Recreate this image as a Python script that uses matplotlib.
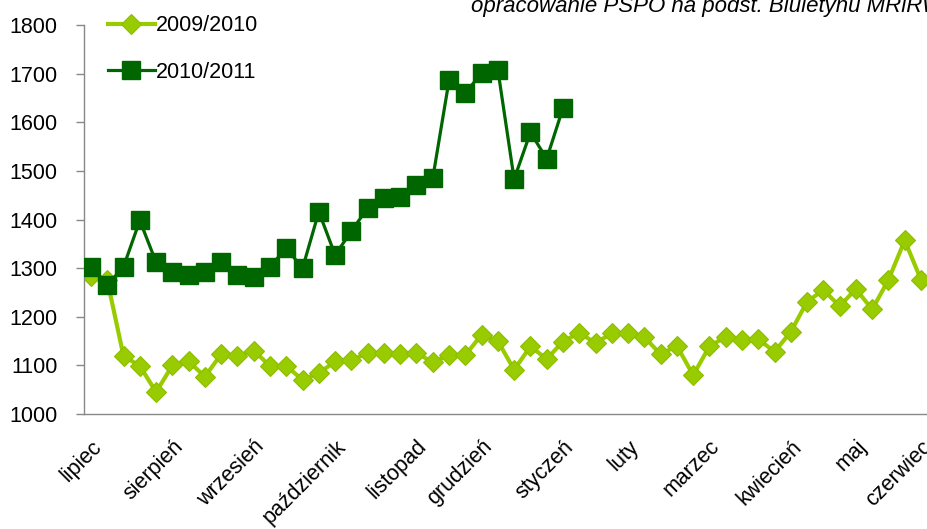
import numpy as np
import matplotlib.pyplot as plt

plt.rcParams['font.family'] = ['Liberation Sans', 'DejaVu Sans']

months = ['lipiec', 'sierpień', 'wrzesień', 'październik', 'listopad', 'grudzień',
          'styczeń', 'luty', 'marzec', 'kwiecień', 'maj', 'czerwiec']
month_pos = [0, 5, 10, 15, 20, 24, 29, 33, 38, 43, 47, 51]

# weekly prices, 2009/2010 season (52 weeks)
s0910 = [1283, 1275, 1119, 1099, 1045, 1100, 1108, 1077, 1123, 1120,
         1130, 1099, 1099, 1070, 1084, 1108, 1111, 1125, 1126, 1123,
         1126, 1106, 1121, 1121, 1163, 1150, 1091, 1139, 1113, 1149,
         1167, 1146, 1166, 1166, 1158, 1123, 1140, 1080, 1139, 1159,
         1152, 1154, 1128, 1169, 1231, 1255, 1222, 1257, 1215, 1276,
         1357, 1276]
# weekly prices, 2010/2011 season (30 weeks so far)
s1011 = [1303, 1265, 1303, 1398, 1312, 1292, 1285, 1292, 1313, 1286,
         1282, 1303, 1341, 1300, 1416, 1327, 1376, 1424, 1444, 1446,
         1470, 1485, 1686, 1660, 1701, 1708, 1483, 1579, 1525, 1629]

light = '#99CC00'
dark = '#006600'

fig = plt.figure(figsize=(9.28, 5.29), dpi=100)
ax = fig.add_axes([84/928, 1 - 414/529, 1 - 84/928, (414 - 25)/529])

ax.plot(np.arange(len(s0910)), s0910, color=light, lw=3, marker='D', ms=10,
        mfc=light, mec='#8DBE00', mew=0.8, label='2009/2010', zorder=2)
ax.plot(np.arange(len(s1011)), s1011, color=dark, lw=2.3, marker='s', ms=13,
        mfc=dark, mec=dark, label='2010/2011', zorder=3)

ax.set_xlim(-0.43, 51.43)
ax.set_ylim(1000, 1800)
ax.set_yticks(range(1000, 1801, 100))
ax.tick_params(axis='y', labelsize=15.5, length=6, color='#888888', width=1, pad=13)
ax.set_xticks(month_pos)
ax.set_xticklabels(months, rotation=45, ha='right', rotation_mode='anchor', fontsize=15.5)
ax.tick_params(axis='x', length=0, pad=16)

for s in ['top', 'right']:
    ax.spines[s].set_visible(False)
for s in ['left', 'bottom']:
    ax.spines[s].set_color('#888888')
    ax.spines[s].set_linewidth(1)
ax.spines['bottom'].set_zorder(0)

leg = ax.legend(loc='upper left', bbox_to_anchor=(0.005, 1.075), frameon=False,
                fontsize=15.5, handlelength=2.2, handletextpad=0.05, labelspacing=1.2)

fig.text(471/928, 1 - 12/529, 'opracowanie PSPO na podst. Biuletynu MRiRW',
         fontsize=16, style='italic', va='baseline', ha='left')

fig.savefig('out.png', dpi=100)
